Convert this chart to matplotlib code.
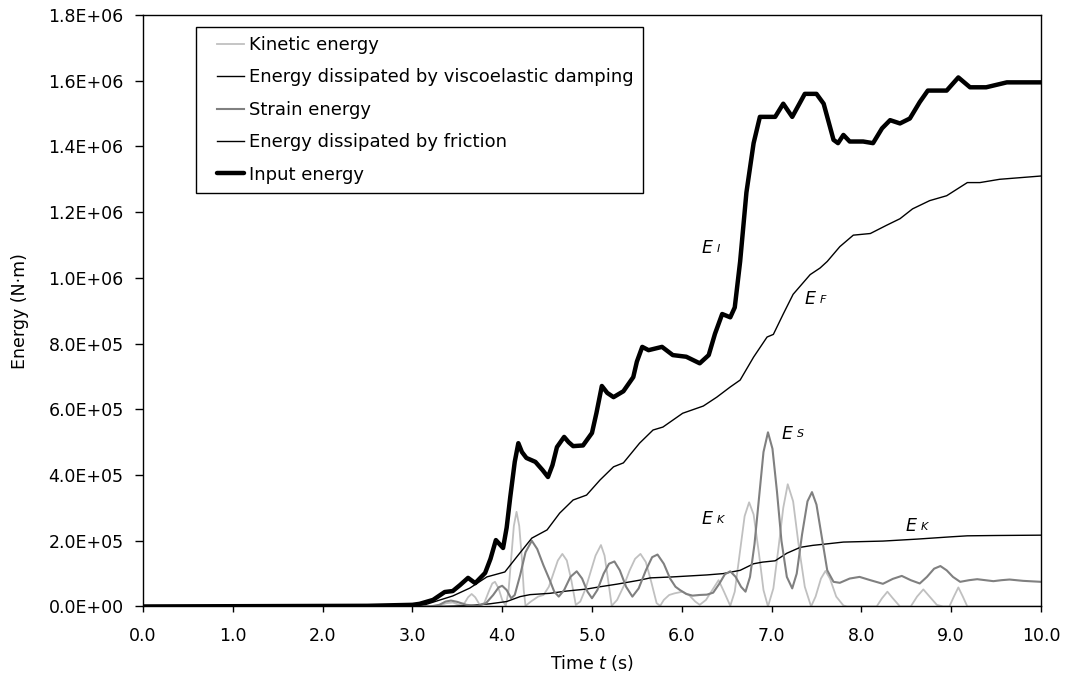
"""
Energy time histories: kinetic, strain, viscoelastic damping, friction and input energy
"""
import matplotlib
matplotlib.use("Agg")
import matplotlib.pyplot as plt
from matplotlib.lines import Line2D
from matplotlib.legend_handler import HandlerLine2D
from matplotlib.ticker import FuncFormatter, MultipleLocator

plt.rcParams['font.family'] = ['DejaVu Sans']
plt.rcParams['mathtext.fontset'] = 'custom'
plt.rcParams['mathtext.rm'] = 'DejaVu Sans'
plt.rcParams['mathtext.it'] = 'DejaVu Sans:italic'

SCALE = 1e5  # energies below are in units of 1e5 N·m

# kinetic energy
t_kin = [0.0, 3.2, 3.3, 3.38, 3.45, 3.52, 3.58, 3.62, 3.66, 3.7, 3.75, 3.8, 3.85, 3.89, 3.92,
         3.96, 4.0, 4.04, 4.07, 4.1, 4.13, 4.16, 4.19, 4.22, 4.24, 4.26, 4.32, 4.4, 4.46, 4.52,
         4.57, 4.62, 4.67, 4.72, 4.77, 4.82, 4.87, 4.93, 4.99, 5.04, 5.1, 5.14, 5.18, 5.22, 5.28,
         5.35, 5.42, 5.48, 5.54, 5.6, 5.66, 5.72, 5.76, 5.8, 5.86, 5.92, 6.01, 6.08, 6.15, 6.2,
         6.27, 6.34, 6.41, 6.47, 6.54, 6.59, 6.64, 6.7, 6.75, 6.8, 6.86, 6.91, 6.96, 7.02, 7.08,
         7.13, 7.18, 7.24, 7.3, 7.37, 7.44, 7.49, 7.55, 7.6, 7.65, 7.72, 7.8, 7.84, 8.17, 8.23,
         8.29, 8.35, 8.43, 8.55, 8.62, 8.69, 8.76, 8.84, 8.91, 8.98, 9.03, 9.08, 9.13, 9.18, 10.0]
e_kin = [0.0, 0.0, 0.03, 0.1, 0.12, 0.05, 0.1, 0.28, 0.38, 0.28, 0.05, 0.1, 0.45, 0.7, 0.75,
         0.55, 0.2, 0.02, 0.45, 1.45, 2.45, 2.88, 2.45, 1.45, 0.5, 0.02, 0.15, 0.3, 0.35, 0.6,
         1.0, 1.4, 1.6, 1.4, 0.8, 0.05, 0.15, 0.55, 1.1, 1.55, 1.87, 1.55, 0.8, 0.02, 0.2,
         0.6, 1.1, 1.45, 1.6, 1.35, 0.75, 0.1, 0.02, 0.2, 0.35, 0.4, 0.45, 0.35, 0.15, 0.05,
         0.2, 0.5, 0.8, 0.45, 0.02, 0.45, 1.5, 2.75, 3.17, 2.8, 1.6, 0.5, 0.0, 0.55, 1.85,
         3.0, 3.72, 3.2, 1.9, 0.6, 0.0, 0.3, 0.85, 1.08, 0.85, 0.3, 0.03, 0.0, 0.0, 0.25,
         0.45, 0.25, 0.0, 0.0, 0.3, 0.52, 0.3, 0.05, 0.0, 0.0, 0.3, 0.58, 0.3, 0.0, 0.0]

# energy dissipated by viscoelastic damping
t_dmp = [0.0, 3.3, 3.6, 3.86, 4.05, 4.2, 4.31, 4.53, 4.72, 4.94, 5.09, 5.28, 5.53, 5.65, 5.9,
         6.28, 6.46, 6.65, 6.8, 6.9, 7.04, 7.17, 7.32, 7.46, 7.6, 7.8, 8.24, 8.62, 9.0, 9.18,
         9.5, 10.0]
e_dmp = [0.0, 0.0, 0.02, 0.08, 0.15, 0.3, 0.36, 0.4, 0.47, 0.53, 0.6, 0.68, 0.8, 0.87, 0.9,
         0.96, 1.0, 1.1, 1.3, 1.35, 1.39, 1.62, 1.8, 1.86, 1.9, 1.96, 1.99, 2.05, 2.12, 2.15,
         2.16, 2.17]

# strain energy
t_str = [0.0, 3.2, 3.3, 3.37, 3.43, 3.5, 3.6, 3.72, 3.82, 3.9, 3.96, 4.0, 4.05, 4.1, 4.14,
         4.2, 4.26, 4.33, 4.39, 4.46, 4.53, 4.58, 4.63, 4.69, 4.76, 4.83, 4.89, 4.95, 5.0, 5.06,
         5.13, 5.19, 5.25, 5.31, 5.38, 5.45, 5.52, 5.6, 5.67, 5.73, 5.8, 5.87, 5.93, 5.98, 6.05,
         6.12, 6.2, 6.28, 6.35, 6.42, 6.48, 6.54, 6.6, 6.66, 6.71, 6.76, 6.81, 6.86, 6.91, 6.96,
         7.01, 7.06, 7.11, 7.17, 7.23, 7.28, 7.34, 7.4, 7.45, 7.5, 7.56, 7.62, 7.69, 7.76, 7.87,
         7.98, 8.1, 8.24, 8.35, 8.45, 8.55, 8.65, 8.73, 8.81, 8.88, 8.95, 9.02, 9.1, 9.2, 9.29,
         9.38, 9.47, 9.56, 9.65, 9.8, 10.0]
e_str = [0.0, 0.0, 0.05, 0.15, 0.18, 0.14, 0.05, 0.02, 0.1, 0.35, 0.58, 0.63, 0.5, 0.25, 0.35,
         0.95, 1.65, 2.0, 1.75, 1.25, 0.8, 0.45, 0.3, 0.5, 0.9, 1.07, 0.85, 0.45, 0.25, 0.5,
         1.0, 1.3, 1.37, 1.1, 0.6, 0.3, 0.55, 1.1, 1.5, 1.58, 1.3, 0.85, 0.6, 0.5, 0.38,
         0.33, 0.35, 0.36, 0.42, 0.7, 0.98, 1.07, 0.9, 0.6, 0.45, 0.9, 1.9, 3.3, 4.7, 5.3,
         4.8, 3.5, 2.0, 0.9, 0.55, 1.0, 2.2, 3.2, 3.48, 3.1, 2.1, 1.1, 0.75, 0.72, 0.85,
         0.9, 0.8, 0.69, 0.84, 0.93, 0.8, 0.7, 0.9, 1.15, 1.23, 1.1, 0.9, 0.75, 0.8, 0.83,
         0.8, 0.77, 0.8, 0.82, 0.78, 0.75]

# energy dissipated by friction
t_fric = [0.0, 3.0, 3.15, 3.31, 3.45, 3.64, 3.83, 4.03, 4.16, 4.33, 4.5, 4.64, 4.79, 4.94, 5.09,
          5.24, 5.35, 5.53, 5.68, 5.79, 6.01, 6.24, 6.39, 6.54, 6.65, 6.8, 6.95, 7.02, 7.13, 7.24,
          7.43, 7.54, 7.62, 7.76, 7.91, 8.1, 8.28, 8.43, 8.57, 8.76, 8.95, 9.18, 9.32, 9.54, 10.0]
e_fric = [0.0, 0.02, 0.06, 0.2, 0.32, 0.56, 0.9, 1.05, 1.5, 2.08, 2.33, 2.84, 3.24, 3.39, 3.85,
          4.25, 4.37, 4.97, 5.37, 5.46, 5.88, 6.1, 6.37, 6.68, 6.89, 7.59, 8.2, 8.28, 8.9, 9.5,
          10.1, 10.3, 10.5, 10.95, 11.3, 11.35, 11.6, 11.8, 12.1, 12.35, 12.5, 12.9, 12.9, 13.0, 13.1]

# input energy
t_in = [0.0, 2.5, 3.0, 3.08, 3.23, 3.36, 3.45, 3.53, 3.62, 3.7, 3.81, 3.87, 3.93, 4.01, 4.05,
        4.09, 4.14, 4.18, 4.22, 4.27, 4.37, 4.45, 4.51, 4.56, 4.61, 4.69, 4.74, 4.79, 4.9, 5.0,
        5.05, 5.11, 5.17, 5.24, 5.35, 5.46, 5.5, 5.56, 5.63, 5.78, 5.9, 6.05, 6.2, 6.3, 6.37,
        6.45, 6.54, 6.59, 6.65, 6.72, 6.8, 6.87, 7.04, 7.13, 7.23, 7.37, 7.5, 7.58, 7.69, 7.74,
        7.8, 7.87, 8.02, 8.13, 8.23, 8.32, 8.43, 8.54, 8.65, 8.74, 8.95, 9.08, 9.21, 9.39, 9.62,
        10.0]
e_in = [0.0, 0.02, 0.05, 0.08, 0.2, 0.44, 0.47, 0.65, 0.87, 0.71, 1.02, 1.45, 2.02, 1.78, 2.4,
        3.33, 4.4, 4.97, 4.7, 4.52, 4.4, 4.15, 3.94, 4.3, 4.85, 5.16, 5.0, 4.88, 4.9, 5.28,
        5.89, 6.71, 6.5, 6.37, 6.55, 6.98, 7.45, 7.9, 7.8, 7.9, 7.65, 7.6, 7.4, 7.65, 8.3,
        8.9, 8.8, 9.1, 10.5, 12.6, 14.1, 14.9, 14.9, 15.3, 14.9, 15.6, 15.6, 15.3, 14.2, 14.1,
        14.35, 14.15, 14.15, 14.1, 14.55, 14.8, 14.7, 14.85, 15.35, 15.7, 15.7, 16.1, 15.8, 15.8, 15.95,
        15.95]

# curve labels: subscript, time, energy (1e5 N·m)
curve_labels = [("I", 6.225, 10.75), ("F", 7.37, 9.2), ("S", 7.116, 5.11),
                ("K", 6.225, 2.51), ("K", 8.497, 2.29)]


def scaled(values):
    return [v * SCALE for v in values]


fig = plt.figure(figsize=(10.67, 6.88), dpi=100)
ax = fig.add_axes([0.134, 0.1185, 0.8416, 0.8597])

ax.plot(t_kin, scaled(e_kin), color='#c0c0c0', lw=1.3, label='Kinetic energy')
ax.plot(t_dmp, scaled(e_dmp), color='black', lw=1.0,
        label='Energy dissipated by viscoelastic damping')
ax.plot(t_str, scaled(e_str), color='#808080', lw=1.5, label='Strain energy')
ax.plot(t_fric, scaled(e_fric), color='black', lw=1.0, label='Energy dissipated by friction')
ax.plot(t_in, scaled(e_in), color='black', lw=3.2, solid_joinstyle='round',
        solid_capstyle='round', label='Input energy')

for sub, t, e in curve_labels:
    ax.text(t, e * SCALE, 'E', fontsize=12.5, style='italic', ha='left', va='baseline')
    ax.annotate(sub, (t, e * SCALE), xytext=(10.5, 1), textcoords='offset points',
                fontsize=8, style='italic', ha='left', va='baseline')

ax.set_xlim(0, 10)
ax.set_ylim(0, 1.8e6)
ax.xaxis.set_major_locator(MultipleLocator(1.0))
ax.yaxis.set_major_locator(MultipleLocator(2e5))
ax.xaxis.set_major_formatter(FuncFormatter(lambda v, p: f"{v:.1f}"))
ax.yaxis.set_major_formatter(FuncFormatter(lambda v, p: f"{v:.1E}"))
ax.tick_params(axis='x', direction='out', length=4.3, width=1.0, pad=10.5, labelsize=12.5)
ax.tick_params(axis='y', direction='out', length=5.5, width=1.0, pad=8.5, labelsize=12.5)
for sp in ax.spines.values():
    sp.set_linewidth(1.0)

ax.set_xlabel('Time $t$ (s)', fontsize=12.5, labelpad=6)
ax.set_ylabel('Energy (N·m)', fontsize=12.5, labelpad=14)

leg = ax.legend(loc='upper left', bbox_to_anchor=(0.059, 0.9797), borderaxespad=0,
                fontsize=13, frameon=True, fancybox=False, framealpha=1,
                edgecolor='black', borderpad=0.5, labelspacing=0.8,
                handlelength=2.14, handletextpad=0.3,
                handler_map={Line2D: HandlerLine2D(xpad=0.65)})
leg.get_frame().set_linewidth(1.0)

fig.savefig('out.png', dpi=100)
